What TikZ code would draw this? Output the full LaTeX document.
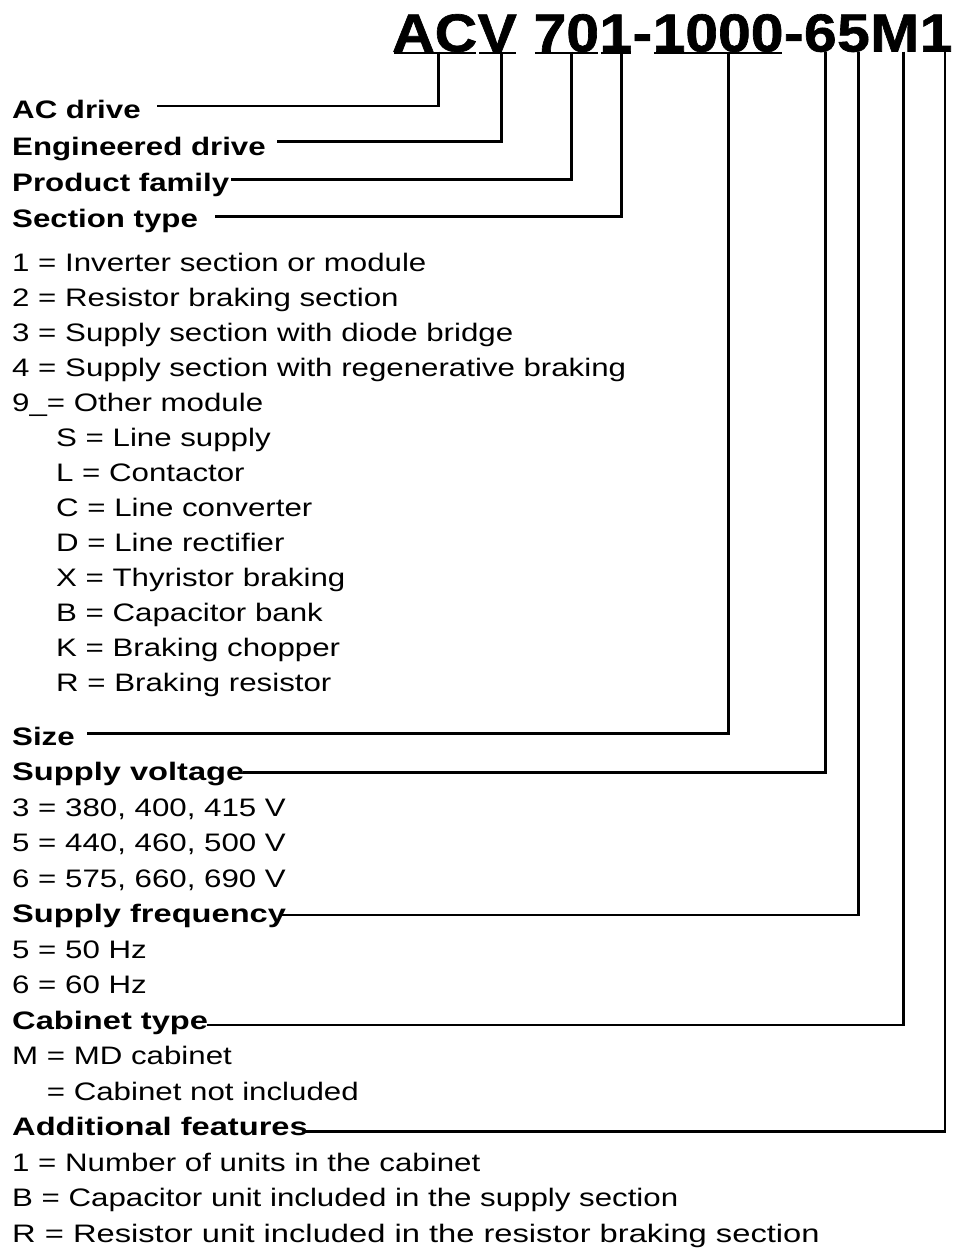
\documentclass[tikz,border=0pt]{standalone}
\usepackage{fontspec}
\setmainfont{Liberation Sans}[FakeStretch=1.235]
\newfontfamily\widefont{Liberation Sans}[FakeStretch=1.29]
\newfontfamily\titlefont{Liberation Sans}[FakeStretch=1.10, FakeBold=1.2]
\begin{document}
\begin{tikzpicture}[x=1pt,y=-1pt,
  lbl/.style={anchor=base west, inner sep=0pt, font=\fontsize{25.3}{30}\selectfont\bfseries},
  lblw/.style={anchor=base west, inner sep=0pt, font=\widefont\fontsize{25.3}{30}\selectfont\bfseries},
  txt/.style={anchor=base west, inner sep=0pt, font=\fontsize{25.3}{30}\selectfont},
  ttl/.style={anchor=base west, inner sep=0pt, font=\titlefont\fontsize{53.5}{60}\selectfont\bfseries},
  conn/.style={line width=2.8pt, line join=miter},
  uline/.style={line width=2.6pt}]
\useasboundingbox (0,0) rectangle (965,1248);
% title
\node[ttl] (tAC) at (392,51.5) {AC};
\node[ttl] (tV) at (tAC.base east) {V};
\node[ttl] (t70) at ([xshift=16.4pt]tV.base east) {70};
\node[ttl] (t1a) at (t70.base east) {1};
\node[ttl] (td1) at (t1a.base east) {-};
\node[ttl] (t1000) at (td1.base east) {1000};
\node[ttl] (td2) at (t1000.base east) {-};
\node[ttl] (t6) at (td2.base east) {6};
\node[ttl] (t5) at (t6.base east) {5};
\node[ttl] (tM) at (t5.base east) {M};
\node[ttl] (t1b) at (tM.base east) {1};
% underlines
\foreach \n in {tAC,tV,t70,t1a,t1000}{
  \draw[uline] ([xshift=1.5pt,yshift=-1.5pt]\n.base west) -- ([xshift=-1.5pt,yshift=-1.5pt]\n.base east);
}
% labels
\node[lbl] (lAC) at (12,118) {AC drive};
\node[lbl] (lEng) at (12,155) {Engineered drive};
\node[lbl] (lPF) at (12,191.5) {Product family};
\node[lbl] (lST) at (12,227.7) {Section type};
\node[txt] (s1) at (12,271) {1 = Inverter section or module};
\node[txt] (s2) at (12,306.1) {2 = Resistor braking section};
\node[txt] (s3) at (12,341.1) {3 = Supply section with diode bridge};
\node[txt] (s4) at (12,376.2) {4 = Supply section with regenerative braking};
\node[txt] (s9) at (12,411.2) {9\_= Other module};
\node[txt] (sS) at (56,446.3) {S = Line supply};
\node[txt] (sL) at (56,481.4) {L = Contactor};
\node[txt] (sC) at (56,516.4) {C = Line converter};
\node[txt] (sD) at (56,551.5) {D = Line rectifier};
\node[txt] (sX) at (56,586.5) {X = Thyristor braking};
\node[txt] (sB) at (56,621.6) {B = Capacitor bank};
\node[txt] (sK) at (56,656.7) {K = Braking chopper};
\node[txt] (sR) at (56,691.7) {R = Braking resistor};
\node[lbl] (lSize) at (12,745) {Size};
\node[lblw] (lSV) at (12,780.5) {Supply voltage};
\node[txt] (v3) at (12,816) {3 = 380, 400, 415 V};
\node[txt] (v5) at (12,851.5) {5 = 440, 460, 500 V};
\node[txt] (v6) at (12,887) {6 = 575, 660, 690 V};
\node[lblw] (lSF) at (12,922.5) {Supply frequency};
\node[txt] (f5) at (12,958) {5 = 50 Hz};
\node[txt] (f6) at (12,993.5) {6 = 60 Hz};
\node[lblw] (lCT) at (12,1029) {Cabinet type};
\node[txt] (cM) at (12,1064.5) {M = MD cabinet};
\node[txt] (cN) at (12,1100) {\phantom{M} = Cabinet not included};
\node[lblw] (lAF) at (12,1135.5) {Additional features};
\node[txt] (a1) at (12,1171) {1 = Number of units in the cabinet};
\node[txt] (aB) at (12,1206.5) {B = Capacitor unit included in the supply section};
\node[txt] (aR) at (12,1242) {\scalebox{1.046}[1]{R = Resistor unit included in the resistor braking section}};
% connector ends
\coordinate (eAC) at (156.7,106);
\coordinate (eEng) at (276.7,141.7);
\coordinate (ePF) at (231,179.3);
\coordinate (eST) at (215,216.7);
\coordinate (eSize) at (87.3,733.3);
\coordinate (eSV) at (243,772.7);
\coordinate (eSF) at (280,915);
\coordinate (eCT) at (207,1025);
\coordinate (eAF) at (304,1131.7);
% connectors
\draw[conn] ([xshift=4pt]tAC.base) |- (eAC);
\draw[conn] ([xshift=4pt]tV.base) |- (eEng);
\draw[conn] ([xshift=5pt]t70.base) |- (ePF);
\draw[conn] ([xshift=6pt]t1a.base) |- (eST);
\draw[conn] ([xshift=10pt]t1000.base) |- (eSize);
\draw[conn] ([xshift=5pt]t6.base) |- (eSV);
\draw[conn] ([xshift=5pt]t5.base) |- (eSF);
\draw[conn] ([xshift=9pt]tM.base) |- (eCT);
\draw[conn] ([xshift=9pt]t1b.base) |- (eAF);
\end{tikzpicture}
\end{document}
